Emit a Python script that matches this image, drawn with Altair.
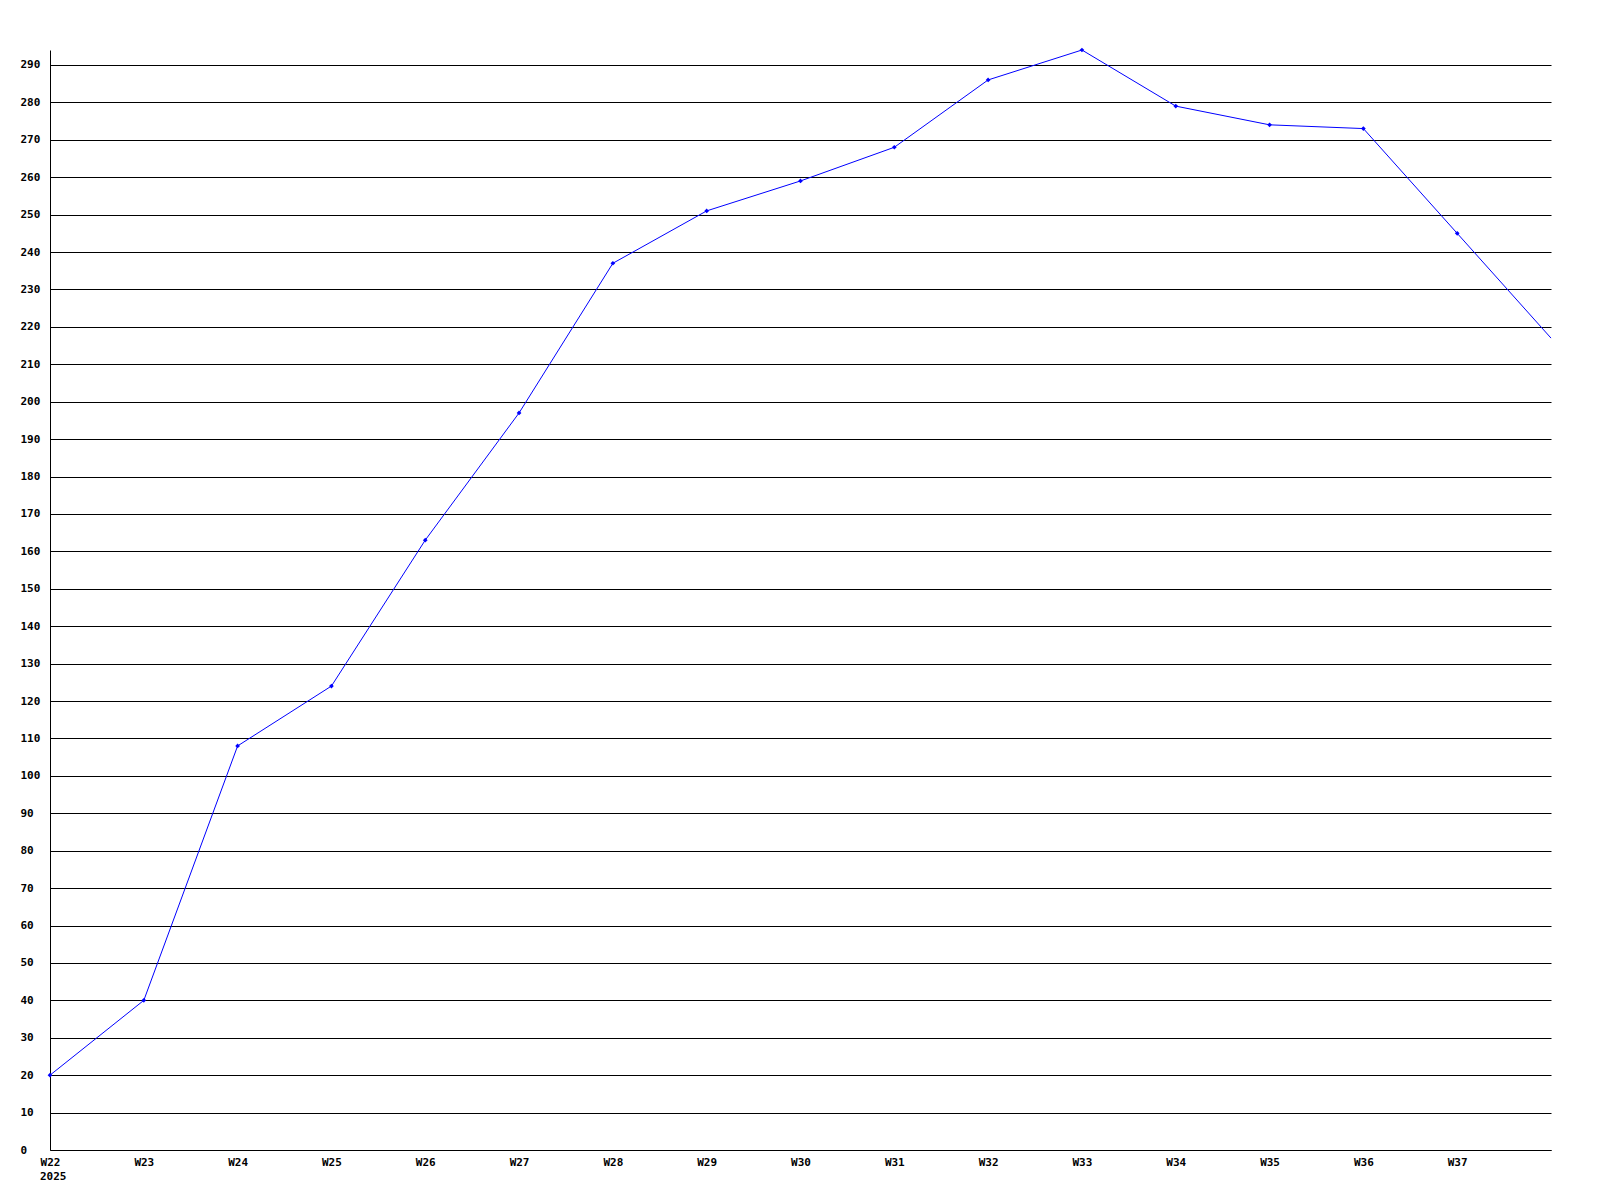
import altair as alt
import pandas as pd

weeks = [22, 23, 24, 25, 26, 27, 28, 29, 30, 31, 32, 33, 34, 35, 36, 37, 38]
values = [20, 40, 108, 124, 163, 197, 237, 251, 259, 268, 286, 294, 279, 274, 273, 245, 217]
tick_weeks = list(range(22, 38))
y_ticks = list(range(0, 300, 10))
year_label = "2025"

df = pd.DataFrame({"week": weeks, "value": values})

FONT = "DejaVu Sans Mono"
W, H = 1501, 1100

x = alt.X("week:Q",
          scale=alt.Scale(domain=[22, 38], nice=False, zero=False),
          axis=alt.Axis(values=tick_weeks, labelExpr="'W' + datum.value", title=None,
                        grid=False, ticks=False, labelPadding=6, domainColor="black",
                        labelFont=FONT, labelFontSize=11, labelFontWeight="bold",
                        labelColor="black", labelFlush=False, labelOverlap=False))
y = alt.Y("value:Q",
          scale=alt.Scale(domain=[0, 294], nice=False, zero=True),
          axis=alt.Axis(values=y_ticks, tickCount=30, title=None, grid=True, gridColor="black",
                        gridWidth=1, gridOpacity=1, ticks=False, labelAlign="left",
                        labelPadding=30, domainColor="black", labelFont=FONT,
                        labelFontSize=11, labelFontWeight="bold", labelColor="black",
                        labelFlush=False, labelOverlap=False))

line = alt.Chart(df).mark_line(color="#0000ff", strokeWidth=1).encode(x=x, y=y)
pts = alt.Chart(df).transform_filter(alt.datum.week < 38).mark_point(
    shape="diamond", filled=True, size=22, color="#0000ff", opacity=1).encode(x=x, y=y)
year = alt.Chart(pd.DataFrame({"week": [22], "t": [year_label]})).mark_text(
    align="left", baseline="middle", dx=-10, font=FONT, fontSize=11,
    fontWeight="bold", color="black").encode(x=x, y=alt.value(H + 27), text="t:N")

chart = alt.layer(line, pts, year).properties(
    width=W, height=H,
    autosize=alt.AutoSizeParams(type="none"),
    padding={"left": 42, "top": 42, "right": 41, "bottom": 42},
    background="white",
).configure_view(strokeWidth=0)

chart.save("out.html", embed_options={"renderer": "svg", "actions": False})
